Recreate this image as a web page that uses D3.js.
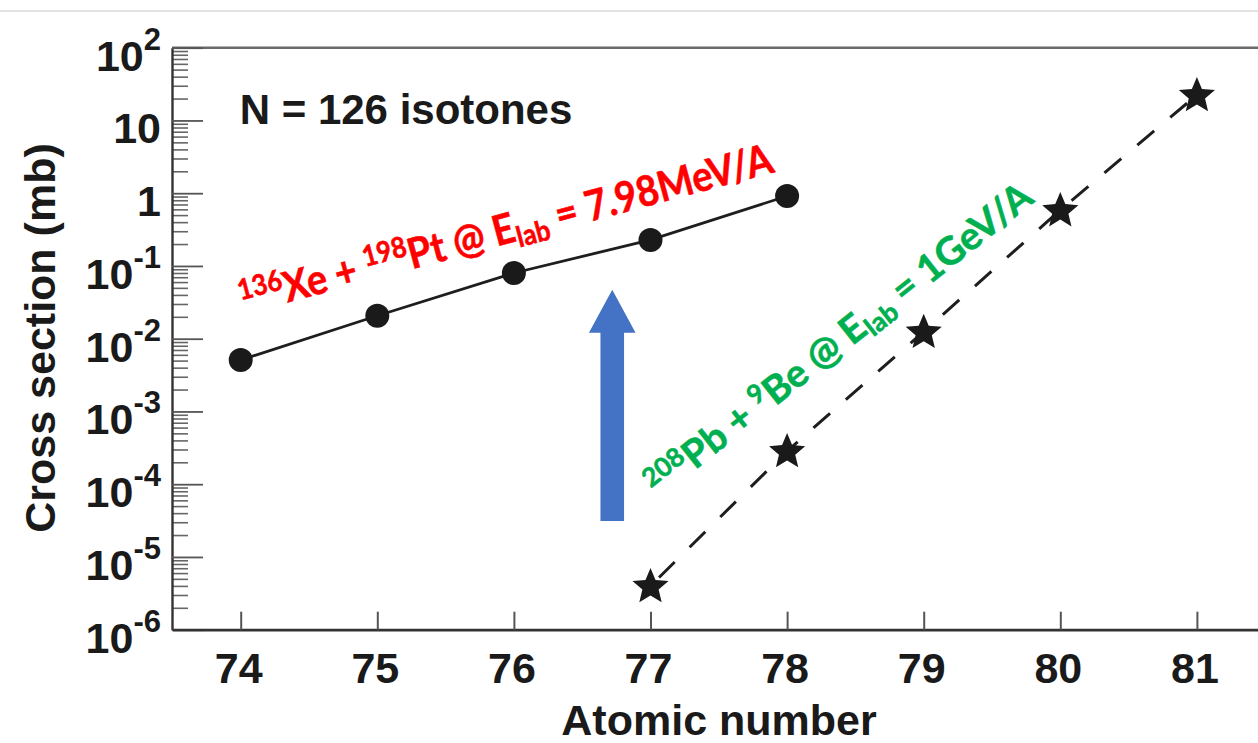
<!DOCTYPE html>
<html>
<head>
<meta charset="utf-8">
<script src="https://cdn.jsdelivr.net/npm/d3@7"></script>
<style>
  html, body { margin: 0; padding: 0; background: #fff; }
  svg { display: block; }
  text { white-space: pre; }
</style>
</head>
<body>
<svg id="chart" width="1258" height="743"></svg>
<script>
// ---------------- data ----------------
const xTickValues = [74, 75, 76, 77, 78, 79, 80, 81];
const xTickLabels = ["74", "75", "76", "77", "78", "79", "80", "81"];

const yTickValues = [1e-6, 1e-5, 1e-4, 1e-3, 1e-2, 1e-1, 1, 10, 100];
const yTickLabels = ["10^-6", "10^-5", "10^-4", "10^-3", "10^-2", "10^-1", "1", "10", "10^2"];

// 136Xe + 198Pt @ 7.98 MeV/A (circles, solid line)
const xeZ = [74, 75, 76, 77, 78];
const xeSigma = [5.1e-3, 2.07e-2, 8.0e-2, 0.228, 0.914];

// 208Pb + 9Be @ 1 GeV/A (stars, dashed line)
const pbZ = [77, 78, 79, 80, 81];
const pbSigma = [4.0e-6, 2.86e-4, 1.25e-2, 0.587, 22.4];

const titleText = "N = 126 isotones";
const xAxisTitle = "Atomic number";
const yAxisTitle = "Cross section (mb)";
const xeLabel = [["sup", "136"], ["", "Xe + "], ["sup", "198"], ["", "Pt @ E"], ["sub", "lab"], ["", " = 7.98MeV/A"]];
const pbLabel = [["sup", "208"], ["", "Pb + "], ["sup", "9"], ["", "Be @ E"], ["sub", "lab"], ["", " = 1GeV/A"]];

// ---------------- layout ----------------
const svg = d3.select("#chart");
const W = 1258, H = 743;
const axisFont = "'Liberation Sans', Arial, Helvetica, sans-serif";
const annFont = "Lato, 'Open Sans', sans-serif";

const x = d3.scaleLinear().domain([73.5, 81.5]).range([172.4, 1265.2]);
const y = d3.scaleLog().domain([1e-6, 1e2]).range([629.7, 47.7]);
const plotLeft = 172, plotTop = y(100), plotBottom = y(1e-6);

// thin page rule at top
svg.append("line").attr("x1", 0).attr("x2", W).attr("y1", 11).attr("y2", 11)
  .attr("stroke", "#c8c8c8").attr("stroke-width", 1.2);

// top frame line
svg.append("line").attr("x1", plotLeft).attr("x2", W).attr("y1", plotTop).attr("y2", plotTop)
  .attr("stroke", "#6a6a6a").attr("stroke-width", 2.6);

// ---------------- y axis ----------------
const minorVals = y.ticks().filter(v => !yTickValues.some(t => Math.abs(t - v) / t < 1e-9));
const yMinor = svg.append("g").attr("transform", `translate(${plotLeft},0)`)
  .call(d3.axisLeft(y).tickValues(minorVals).tickSize(-16).tickSizeOuter(0).tickFormat(""));
yMinor.select(".domain").remove();
yMinor.selectAll(".tick line").attr("stroke", "#666").attr("stroke-width", 1.6);

const yMajor = svg.append("g").attr("transform", `translate(${plotLeft},0)`)
  .call(d3.axisLeft(y).tickValues(yTickValues).tickSize(-31).tickSizeOuter(0).tickFormat(""));
yMajor.select(".domain").attr("stroke", "#333").attr("stroke-width", 2.4);
yMajor.selectAll(".tick line").attr("stroke", "#555").attr("stroke-width", 1.8);

// y tick labels with superscripts
yTickValues.forEach((v, i) => {
  const parts = yTickLabels[i].split("^");
  const t = svg.append("text")
    .attr("x", 161).attr("y", y(v) + 23)
    .attr("text-anchor", "end")
    .attr("font-family", axisFont).attr("font-weight", "bold")
    .attr("font-size", 43).attr("fill", "#1a1a1a");
  t.append("tspan").text(parts[0]);
  if (parts.length > 1) {
    t.append("tspan").attr("dy", -21).attr("font-size", 31).text(parts[1]);
  }
});

// ---------------- x axis ----------------
const xAx = svg.append("g").attr("transform", `translate(0,${plotBottom})`)
  .call(d3.axisBottom(x).tickValues(xTickValues).tickSize(-18).tickSizeOuter(0).tickFormat(""));
xAx.select(".domain").attr("stroke", "#333").attr("stroke-width", 2.8);
xAx.selectAll(".tick line").attr("stroke", "#555").attr("stroke-width", 2);

xTickValues.forEach((v, i) => {
  svg.append("text").attr("x", x(v) - 2).attr("y", plotBottom + 53)
    .attr("text-anchor", "middle")
    .attr("font-family", axisFont).attr("font-weight", "bold")
    .attr("font-size", 43).attr("fill", "#1a1a1a").text(xTickLabels[i]);
});

// axis titles
svg.append("text").attr("x", 719).attr("y", 735).attr("text-anchor", "middle")
  .attr("font-family", axisFont).attr("font-weight", "bold").attr("font-size", 43)
  .attr("fill", "#1a1a1a").text(xAxisTitle);
svg.append("text").attr("transform", "translate(55,338) rotate(-90)").attr("text-anchor", "middle")
  .attr("font-family", axisFont).attr("font-weight", "bold").attr("font-size", 43)
  .attr("fill", "#1a1a1a").text(yAxisTitle);

// title inside plot
svg.append("text").attr("x", x(74) - 1).attr("y", y(8.93))
  .attr("font-family", axisFont).attr("font-weight", "bold").attr("font-size", 42)
  .attr("fill", "#1a1a1a").text(titleText);

// ---------------- blue arrow (annotation) ----------------
const arrowZ = 76.72, arrowTail = 3.12e-5, arrowTip = 0.047, arrowHeadBase = 0.0121;
const ax = x(arrowZ), shaftHW = 11.8, headHW = 23.3;
svg.append("path")
  .attr("d", d3.line()([
    [ax - shaftHW, y(arrowTail)], [ax - shaftHW, y(arrowHeadBase)], [ax - headHW, y(arrowHeadBase)],
    [ax, y(arrowTip)], [ax + headHW, y(arrowHeadBase)], [ax + shaftHW, y(arrowHeadBase)],
    [ax + shaftHW, y(arrowTail)]
  ]) + "Z")
  .attr("fill", "#4472c4");

// ---------------- series ----------------
const xeData = xeZ.map((z, i) => [z, xeSigma[i]]);
const pbData = pbZ.map((z, i) => [z, pbSigma[i]]);
const line = d3.line().x(d => x(d[0])).y(d => y(d[1]));

svg.append("path").datum(xeData).attr("d", line)
  .attr("fill", "none").attr("stroke", "#1e1e1e").attr("stroke-width", 2.8);

svg.append("path").datum(pbData).attr("d", line)
  .attr("fill", "none").attr("stroke", "#1e1e1e").attr("stroke-width", 3)
  .attr("stroke-dasharray", "22,21").attr("stroke-dashoffset", 31);

svg.selectAll("circle.xe").data(xeData).enter().append("circle")
  .attr("class", "xe").attr("cx", d => x(d[0])).attr("cy", d => y(d[1])).attr("r", 12)
  .attr("fill", "#1a1a1a");

// five-pointed star with a slightly fuller body than d3.symbolStar
const fatStar = {
  draw(context, size) {
    const R = Math.sqrt(size), r = R * 0.45;
    for (let i = 0; i < 10; i++) {
      const a = -Math.PI / 2 + i * Math.PI / 5;
      const rad = i % 2 === 0 ? R : r;
      const px = rad * Math.cos(a), py = rad * Math.sin(a);
      if (i === 0) context.moveTo(px, py); else context.lineTo(px, py);
    }
    context.closePath();
  }
};
const star = d3.symbol().type(fatStar).size(19 * 19);
svg.selectAll("path.pb").data(pbData).enter().append("path")
  .attr("class", "pb").attr("d", star)
  .attr("transform", d => `translate(${x(d[0])},${y(d[1]) + 1})`)
  .attr("fill", "#1a1a1a");

// ---------------- rotated annotations ----------------
function buildLabel(segs, cx, cy, angle, fs, color, sx) {
  const t = svg.append("text")
    .attr("transform", `translate(${cx},${cy}) rotate(${angle}) scale(${sx},1)`)
    .attr("text-anchor", "middle")
    .attr("font-family", annFont).attr("font-weight", "bold")
    .style("font-size", fs + "px").attr("fill", color)
    .attr("stroke", color).attr("stroke-width", 0.6);
  let shift = 0;
  segs.forEach(([kind, str]) => {
    const target = kind === "sup" ? -0.34 * fs : kind === "sub" ? 0.16 * fs : 0;
    const ts = t.append("tspan").attr("dy", target - shift).text(str);
    if (kind) ts.style("font-size", (0.68 * fs) + "px");
    shift = target;
  });
  return t;
}
function fitLabel(segs, cx, cy, angle, fs, color, targetLen) {
  const t = buildLabel(segs, cx, cy, angle, fs, color, 1);
  const L = t.node().getComputedTextLength();
  t.remove();
  return buildLabel(segs, cx, cy, angle, fs, color, targetLen / L);
}
fitLabel(xeLabel, x(75.97), y(0.2065), -15, 42, "#ff0000", 550);
fitLabel(pbLabel, x(78.44), y(7.0e-3), -38.3, 38.5, "#00b050", 480);
</script>
</body>
</html>
